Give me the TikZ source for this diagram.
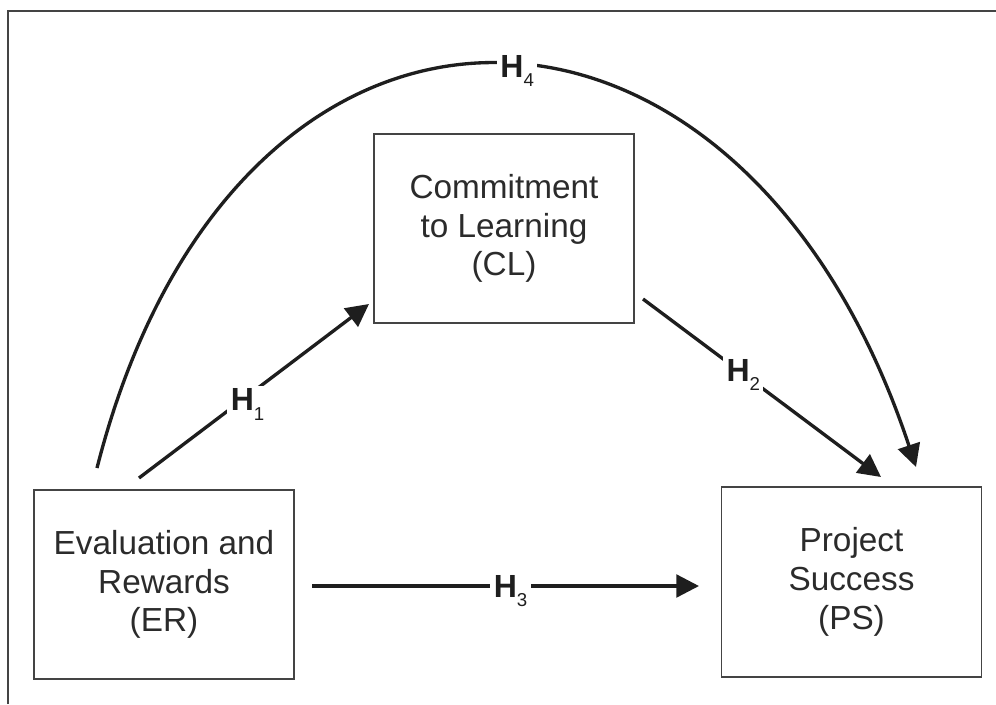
\documentclass[tikz,border=0pt]{standalone}
\usepackage{fontspec}
\setmainfont{Liberation Sans}
\usetikzlibrary{arrows.meta}
\definecolor{inkgray}{HTML}{1E1E1E}
\definecolor{textgray}{HTML}{2B2B2B}
\definecolor{framegray}{HTML}{444444}
\newcommand{\hyp}[1]{%
  \textbf{H}\raisebox{-7pt}{\fontsize{14}{14}\selectfont #1}}
\newcommand{\connecthyp}[4]{%
  \draw[link, ->] (#1) -- node[hyp, pos=#3] {\hyp{#4}} (#2)}

\begin{document}
\begin{tikzpicture}[x=0.75pt, y=-0.75pt,
    box/.style={rectangle, draw=framegray, line width=1.3pt,
    minimum width=195pt, minimum height=142pt, align=center,
    text=textgray, font=\fontsize{25}{29}\selectfont},
    hyp/.style={fill=white, inner sep=2.5pt, text=inkgray,
    xshift=3.8pt, yshift=-3.6pt, font=\fontsize{24}{24}\selectfont},
    link/.style={draw=inkgray, line width=2.5pt},
    >={Triangle[length=17pt, width=17pt]}]
  \useasboundingbox (0,0) rectangle (996,704);
  \draw[framegray, line width=1.5pt] (8,704) -- (8,11) -- (996,11);

  \node[box] (er) at (164,584.5) {Evaluation and\\Rewards\\(ER)};
  \node[box] (cl) at (504,228.5) {Commitment\\to Learning\\(CL)};
  \node[box] (ps) at (851.5,582) {Project\\Success\\(PS)};

  \coordinate (h1s) at (139,478);
  \coordinate (h1e) at (369,304);
  \coordinate (h2s) at (643,299);
  \coordinate (h2e) at (881,477);
  \coordinate (h3s) at (312,586);
  \coordinate (h3e) at (699,586);
  \coordinate (h4s) at (97,468);
  \coordinate (h4e) at (916,467);

  \connecthyp{h1s}{h1e}{0.45}{1};
  \connecthyp{h2s}{h2e}{0.40}{2};
  \connecthyp{h3s}{h3e}{0.50}{3};
  \draw[link, ->] (h4s) .. controls (235,-74) and (740,-64) ..
    node[hyp, pos=0.52] {\hyp{4}} (h4e);
\end{tikzpicture}
\end{document}
